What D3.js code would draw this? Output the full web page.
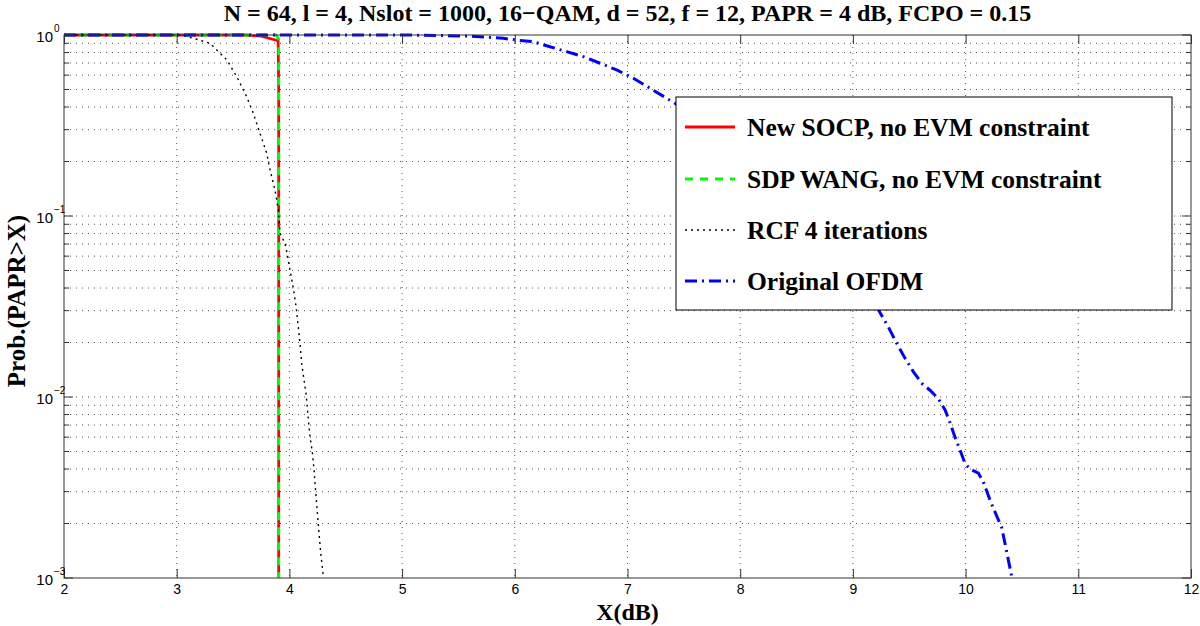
<!DOCTYPE html>
<html>
<head>
<meta charset="utf-8">
<script src="https://cdn.jsdelivr.net/npm/d3@7/dist/d3.min.js"></script>
<style>
  html, body { margin: 0; padding: 0; background: #fff; }
  svg { display: block; }
</style>
</head>
<body>
<svg id="chart" width="1200" height="626"></svg>
<script>
// ---- Data ----
const titleText = "N = 64, l = 4, Nslot = 1000, 16\u2212QAM, d = 52, f = 12, PAPR = 4 dB, FCPO = 0.15";
const xTicks = [2, 3, 4, 5, 6, 7, 8, 9, 10, 11, 12];
const yDecades = [-3, -2, -1, 0];

const socpX = [2, 3.6, 3.75, 3.9, 3.905, 3.905];
const socpY = [1, 1, 0.985, 0.93, 0.5, 0.001];

const sdpX = [2, 3.88, 3.905, 3.905];
const sdpY = [1, 1, 0.95, 0.001];

const rcfX = [2, 3.0, 3.06, 3.147, 3.295, 3.444, 3.532, 3.621, 3.68, 3.739, 3.799, 3.828, 3.872, 3.902, 3.917, 3.961, 3.982, 4.005, 4.035, 4.059, 4.079, 4.094, 4.109, 4.13, 4.147, 4.153, 4.168, 4.183, 4.203, 4.218, 4.233, 4.248, 4.263, 4.278, 4.301];
const rcfY = [1, 1, 0.99, 0.96, 0.90, 0.73, 0.59, 0.456, 0.369, 0.286, 0.222, 0.18, 0.139, 0.108, 0.080, 0.0706, 0.061, 0.0504, 0.0398, 0.0316, 0.0244, 0.0198, 0.0153, 0.0124, 0.0105, 0.0096, 0.0075, 0.0060, 0.0050, 0.0040, 0.0030, 0.0023, 0.00177, 0.00137, 0.00102];

const ofdmX = [2, 5.0, 5.3, 5.6, 5.898, 6.017, 6.164, 6.312, 6.46, 6.608, 6.756, 6.904, 7.052, 7.2, 7.348, 7.421, 7.6, 7.8, 8.0, 8.2, 8.4, 8.6, 8.8, 9.0, 9.226, 9.314, 9.389, 9.462, 9.536, 9.611, 9.684, 9.758, 9.817, 9.862, 9.906, 9.95, 9.994, 10.04, 10.113, 10.157, 10.216, 10.276, 10.32, 10.349, 10.379, 10.409, 10.42];
const ofdmY = [1, 1, 0.995, 0.986, 0.959, 0.937, 0.918, 0.861, 0.809, 0.759, 0.698, 0.641, 0.577, 0.508, 0.447, 0.42, 0.347, 0.275, 0.214, 0.162, 0.120, 0.087, 0.062, 0.0437, 0.0303, 0.0244, 0.0198, 0.0164, 0.0138, 0.0119, 0.0109, 0.0098, 0.0085, 0.0072, 0.0060, 0.0051, 0.0043, 0.0040, 0.0038, 0.0034, 0.0027, 0.0022, 0.0019, 0.00156, 0.00126, 0.00102, 0.001];

const seriesNames = ["New SOCP, no EVM constraint", "SDP WANG, no EVM constraint", "RCF 4 iterations", "Original OFDM"];

// ---- Layout ----
const L = 64, R = 1191, T = 35, B = 578;
const svg = d3.select("#chart");
const x = d3.scaleLinear().domain([2, 12]).range([L, R]);
const y = d3.scaleLog().domain([1e-3, 1]).range([B, T]);

const serif = "'Liberation Serif', 'Times New Roman', serif";
const sans = "'Liberation Sans', Arial, Helvetica, sans-serif";

// Grid
const grid = svg.append("g");
xTicks.slice(1, -1).forEach(v => {
  grid.append("line").attr("x1", x(v)).attr("x2", x(v)).attr("y1", T).attr("y2", B)
    .attr("stroke", "#555").attr("stroke-width", 1).attr("stroke-dasharray", "1,5");
});
const yGridVals = [];
yDecades.slice(0, -1).forEach(d => {
  for (let m = 1; m <= 9; m++) yGridVals.push(m * Math.pow(10, d));
});
yGridVals.forEach(v => {
  if (v <= 1e-3) return;
  grid.append("line").attr("x1", L).attr("x2", R).attr("y1", y(v)).attr("y2", y(v))
    .attr("stroke", "#555").attr("stroke-width", 1).attr("stroke-dasharray", "1,5");
});

// Clip
svg.append("defs").append("clipPath").attr("id", "clip")
  .append("rect").attr("x", L - 3).attr("y", T - 3).attr("width", R - L + 6).attr("height", B - T + 3);

const line = d3.line().x(d => x(d[0])).y(d => y(d[1]));
const plot = svg.append("g").attr("clip-path", "url(#clip)");
const zip = (a, b) => a.map((v, i) => [v, b[i]]);

const styles = [
  { color: "#ff0000", width: 2.8, dash: null },
  { color: "#00ff00", width: 2.8, dash: "8,7" },
  { color: "#000000", width: 1.4, dash: "2,4" },
  { color: "#0000ff", width: 3, dash: "12,5,2,5" }
];
const seriesData = [zip(socpX, socpY), zip(sdpX, sdpY), zip(rcfX, rcfY), zip(ofdmX, ofdmY)];

seriesData.forEach((d, i) => {
  const p = plot.append("path").attr("d", line(d)).attr("fill", "none")
    .attr("stroke", styles[i].color).attr("stroke-width", styles[i].width);
  if (styles[i].dash) p.attr("stroke-dasharray", styles[i].dash);
});

// Axes box & ticks
const axG = svg.append("g").attr("stroke", "#333").attr("stroke-width", 1);
axG.append("rect").attr("x", L).attr("y", T).attr("width", R - L).attr("height", B - T).attr("fill", "none");

const xAxisB = d3.axisBottom(x).tickValues(xTicks).tickSize(-9).tickPadding(6).tickFormat(d3.format("d"));
const gxb = svg.append("g").attr("transform", `translate(0,${B})`).call(xAxisB);
gxb.select(".domain").remove();
gxb.selectAll("line").attr("stroke", "#333");
gxb.selectAll("text").attr("font-family", sans).attr("font-size", 14).attr("fill", "#000");

const xAxisT = d3.axisTop(x).tickValues(xTicks).tickSize(-9).tickFormat("");
const gxt = svg.append("g").attr("transform", `translate(0,${T})`).call(xAxisT);
gxt.select(".domain").remove();
gxt.selectAll("line").attr("stroke", "#333");

// y ticks: major and minor, left and right
const yMajor = yDecades.map(d => Math.pow(10, d));
const yMinor = yGridVals.filter(v => !yMajor.some(m => Math.abs(m - v) < 1e-12));
[[L, 1], [R, -1]].forEach(([x0, dir]) => {
  yMajor.forEach(v => axG.append("line").attr("x1", x0).attr("x2", x0 + dir * 9).attr("y1", y(v)).attr("y2", y(v)));
  yMinor.forEach(v => axG.append("line").attr("x1", x0).attr("x2", x0 + dir * 5).attr("y1", y(v)).attr("y2", y(v)));
});

// y tick labels 10^k
const yl = svg.append("g");
yDecades.forEach(d => {
  const yy = y(Math.pow(10, d));
  yl.append("text").attr("x", 53).attr("y", yy + 7).attr("text-anchor", "end")
    .attr("font-family", sans).attr("font-size", 15).attr("fill", "#000").text("10");
  yl.append("text").attr("x", 54).attr("y", yy - 3).attr("text-anchor", "start")
    .attr("font-family", sans).attr("font-size", 10).attr("fill", "#000")
    .text(d === 0 ? "0" : "\u2212" + Math.abs(d));
});

// Title & labels
svg.append("text").attr("x", (L + R) / 2).attr("y", 21).attr("text-anchor", "middle")
  .attr("font-family", serif).attr("font-weight", "bold").attr("font-size", 24).attr("fill", "#000")
  .text(titleText);
svg.append("text").attr("x", (L + R) / 2).attr("y", 620).attr("text-anchor", "middle")
  .attr("font-family", serif).attr("font-weight", "bold").attr("font-size", 24).attr("fill", "#000")
  .text("X(dB)");
svg.append("text").attr("transform", `translate(25,301) rotate(-90)`).attr("text-anchor", "middle")
  .attr("font-family", serif).attr("font-weight", "bold").attr("font-size", 25).attr("fill", "#000")
  .text("Prob.(PAPR>X)");

// Legend
const lg = svg.append("g");
lg.append("rect").attr("x", 676).attr("y", 97).attr("width", 1172 - 676).attr("height", 310 - 97)
  .attr("fill", "#fff").attr("stroke", "#000").attr("stroke-width", 1);
const rowY = [127, 179, 230, 281];
seriesNames.forEach((name, i) => {
  const l = lg.append("line").attr("x1", 685).attr("x2", 735).attr("y1", rowY[i]).attr("y2", rowY[i])
    .attr("stroke", styles[i].color).attr("stroke-width", styles[i].width);
  if (styles[i].dash) l.attr("stroke-dasharray", styles[i].dash);
  lg.append("text").attr("x", 747).attr("y", rowY[i] + 9)
    .attr("font-family", serif).attr("font-weight", "bold").attr("font-size", 25.5).attr("fill", "#000")
    .text(name);
});
</script>
</body>
</html>
